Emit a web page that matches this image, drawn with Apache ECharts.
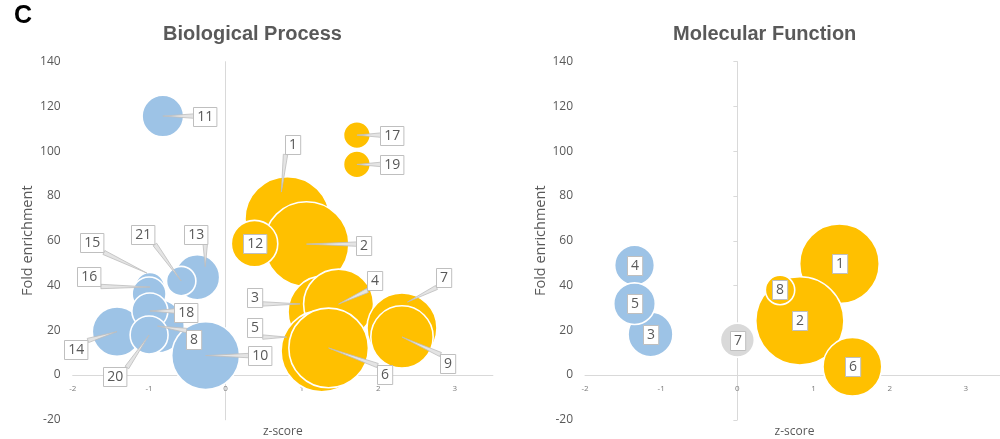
<!DOCTYPE html>
<html>
<head>
<meta charset="utf-8">
<script src="https://cdn.jsdelivr.net/npm/echarts@6/dist/echarts.min.js"></script>
<style>
  html, body { margin: 0; padding: 0; background: #ffffff; }
  #chart { width: 1000px; height: 439px; }
</style>
</head>
<body>
<div id="chart"></div>
<script>
// ---- Biological Process: term number, z-score, fold enrichment, gene count ----
const bpIds = ['1', '2', '3', '4', '5', '6', '7', '8', '9', '10', '11', '12', '13', '14', '15', '16', '17', '18', '19', '20', '21'];
const bpZScore = [0.81, 1.06, 1.29, 1.48, 1.26, 1.35, 2.31, -0.89, 2.31, -0.26, -0.82, 0.38, -0.37, -1.42, -0.99, -1.00, 1.72, -0.99, 1.72, -1.00, -0.58];
const bpFold = [69.7, 58.5, 28.2, 31.7, 10.7, 12.1, 21.0, 21.9, 17.0, 8.7, 115.7, 58.7, 43.7, 19.4, 39.3, 36.2, 107.2, 28.6, 94.1, 17.9, 42.0];
const bpGenes = [50, 50, 36, 34, 46, 44, 34, 20, 27, 32, 12, 15, 14, 17, 6, 8, 5, 9, 5, 10, 6];

// ---- Molecular Function ----
const mfIds = ['1', '2', '3', '4', '5', '6', '7', '8'];
const mfZScore = [1.34, 0.82, -1.14, -1.35, -1.35, 1.51, 0.00, 0.56];
const mfFold = [49.7, 24.2, 18.2, 49.1, 31.9, 3.7, 15.6, 38.0];
const mfGenes = [44, 54, 14, 11, 12, 24, 8, 6];

// ---- axis ticks ----
const xTicks = [-2, -1, 0, 1, 2, 3];
const yTicks = [-20, 0, 20, 40, 60, 80, 100, 120, 140];
const xEnd = 3.5;

// Callout placement for the Biological Process labels, in pixels relative to
// the bubble centre: [box dx, box dy, leader tip dx, leader tip dy]
const bpCallouts = [
  [5, -74.5, -6, -27], [57, 1, 0, 0], [-69, -14, -24, -8], [36.5, -24, 0, 0],
  [-67, -24, -35, -14], [56, 27, 0, 0], [41.5, -51, 5.5, -26], [36, 13, 0, 0],
  [46, 27, 0, 0], [54, 0, 0, 0], [42, 0, 0, 0], [0, 0, 0, 0],
  [-1.5, -43, 8, -10.5], [-41, 18, 0, 0], [-58, -44.5, -3, -14], [-60, -18, 1, -7],
  [35, 0, 0, 0], [36, 1, 0, 0], [35, 0, 0, 0], [-34, 42, 0, 0], [-38.5, -47, 0, 0]
];

const UP = '#FFC000', DOWN = '#9DC3E6', NEUTRAL = '#D9D9D9';
const FONT = '"Open Sans", "Noto Sans", sans-serif';
const bubbleRadius = n => 6 * Math.sqrt(n);

function rows(z, fold, genes) {
  return z.map((v, i) => [v, fold[i], genes[i]]);
}

// bubbles: area proportional to gene count, colour by sign of the z-score
function bubbleSeries(gi, z, fold, genes) {
  return {
    type: 'custom',
    xAxisIndex: gi,
    yAxisIndex: gi * 2,
    z: 2,
    silent: true,
    encode: { x: 0, y: 1 },
    data: rows(z, fold, genes),
    renderItem(params, api) {
      const zv = api.value(0);
      const c = api.coord([zv, api.value(1)]);
      const fill = zv > 0 ? UP : (zv < 0 ? DOWN : NEUTRAL);
      return {
        type: 'circle',
        shape: { cx: c[0], cy: c[1], r: bubbleRadius(api.value(2)) },
        style: { fill: fill, stroke: '#ffffff', lineWidth: 1.6 }
      };
    }
  };
}

// numbered boxes, with a tapered leader when the box sits away from its bubble
function labelSeries(gi, ids, z, fold, genes, callouts) {
  return {
    type: 'custom',
    xAxisIndex: gi,
    yAxisIndex: gi * 2,
    z: 5,
    silent: true,
    encode: { x: 0, y: 1 },
    data: rows(z, fold, genes),
    renderItem(params, api) {
      const i = params.dataIndex;
      const c = api.coord([api.value(0), api.value(1)]);
      const lay = callouts ? callouts[i] : [0, 0, 0, 0];
      const text = ids[i];
      const w = 8.2 * text.length + 7, h = 19;
      const bx = Math.round(c[0] + lay[0] - w / 2) + 0.5;
      const by = Math.round(c[1] + lay[1] - h / 2) + 0.5;
      const children = [];
      const tx = c[0] + lay[2], ty = c[1] + lay[3];
      const ax = Math.min(Math.max(tx, bx), bx + w);
      const ay = Math.min(Math.max(ty, by), by + h);
      const len = Math.hypot(tx - ax, ty - ay);
      if (len > 1) {
        const nx = -(ty - ay) / len * 2.2, ny = (tx - ax) / len * 2.2;
        children.push({
          type: 'polygon',
          shape: { points: [[ax + nx, ay + ny], [ax - nx, ay - ny], [tx, ty]] },
          style: { fill: '#e4e4e4', stroke: '#bdbdbd', lineWidth: 0.8 }
        });
      }
      children.push({
        type: 'rect',
        shape: { x: bx, y: by, width: w, height: h },
        style: { fill: '#ffffff', stroke: '#bfbfbf', lineWidth: 1 }
      });
      children.push({
        type: 'text',
        style: {
          text: text, x: bx + w / 2, y: by + h / 2 + 0.5,
          align: 'center', verticalAlign: 'middle',
          fill: '#595959', font: '14px ' + FONT
        }
      });
      return { type: 'group', children: children };
    }
  };
}

const grids = [
  { left: 72.7, top: 61.7, width: 420.2, height: 358.1, containLabel: false, outerBoundsMode: 'none' },
  { left: 585, top: 61.7, width: 419, height: 358.1, containLabel: false, outerBoundsMode: 'none' }
];

// the z-score labels sit just under the zero line, which is one tick step above the bottom edge
const xAxes = grids.map((g, gi) => ({
  type: 'value', gridIndex: gi,
  min: xTicks[0], max: xEnd, interval: xTicks[1] - xTicks[0],
  name: 'z-score', nameLocation: 'middle', nameGap: 6,
  nameTextStyle: { fontSize: 12, color: '#595959', fontFamily: FONT },
  axisLine: { onZero: true, onZeroAxisIndex: gi * 2, lineStyle: { color: '#d9d9d9', width: 1 } },
  axisTick: { show: false },
  splitLine: { show: false },
  axisLabel: {
    fontSize: 8, color: '#7a7a7a', fontFamily: FONT, margin: -35,
    showMaxLabel: false,
    formatter: v => (xTicks.indexOf(v) >= 0 ? String(v) : '')
  }
}));

const yAxes = [];
grids.forEach((g, gi) => {
  // tick labels down the left side
  yAxes.push({
    type: 'value', gridIndex: gi, position: 'left',
    min: yTicks[0], max: yTicks[yTicks.length - 1], interval: yTicks[1] - yTicks[0],
    name: 'Fold enrichment', nameLocation: 'middle', nameGap: 37,
    nameTextStyle: { fontSize: 14.5, color: '#595959', fontFamily: FONT },
    axisLine: { show: false, onZero: false },
    axisTick: { show: false },
    splitLine: { show: false },
    axisLabel: { fontSize: 12, color: '#595959', fontFamily: FONT, margin: 12 }
  });
  // vertical line through z = 0
  yAxes.push({
    type: 'value', gridIndex: gi, position: 'left',
    min: yTicks[0], max: yTicks[yTicks.length - 1], interval: yTicks[1] - yTicks[0],
    axisLine: { show: true, onZero: true, onZeroAxisIndex: gi, lineStyle: { color: '#d9d9d9', width: 1 } },
    axisTick: { show: gi === 1, length: 4, lineStyle: { color: '#d9d9d9' } },
    splitLine: { show: false },
    axisLabel: { show: false }
  });
});

const chart = echarts.init(document.getElementById('chart'), null, { renderer: 'canvas' });
chart.setOption({
  animation: false,
  backgroundColor: '#ffffff',
  title: [
    { text: 'C', left: 14, top: 4, padding: 0,
      textStyle: { fontSize: 25, fontWeight: 'bold', color: '#000000', fontFamily: '"Liberation Sans", Arial, sans-serif' } },
    { text: 'Biological Process', left: 163, top: 24, padding: 0,
      textStyle: { fontSize: 20, fontWeight: 'bold', color: '#595959', fontFamily: '"Liberation Sans", Arial, sans-serif' } },
    { text: 'Molecular Function', left: 673, top: 24, padding: 0,
      textStyle: { fontSize: 20, fontWeight: 'bold', color: '#595959', fontFamily: '"Liberation Sans", Arial, sans-serif' } }
  ],
  grid: grids,
  xAxis: xAxes,
  yAxis: yAxes,
  series: [
    bubbleSeries(0, bpZScore, bpFold, bpGenes),
    labelSeries(0, bpIds, bpZScore, bpFold, bpGenes, bpCallouts),
    bubbleSeries(1, mfZScore, mfFold, mfGenes),
    labelSeries(1, mfIds, mfZScore, mfFold, mfGenes, null)
  ]
});
</script>
</body>
</html>
